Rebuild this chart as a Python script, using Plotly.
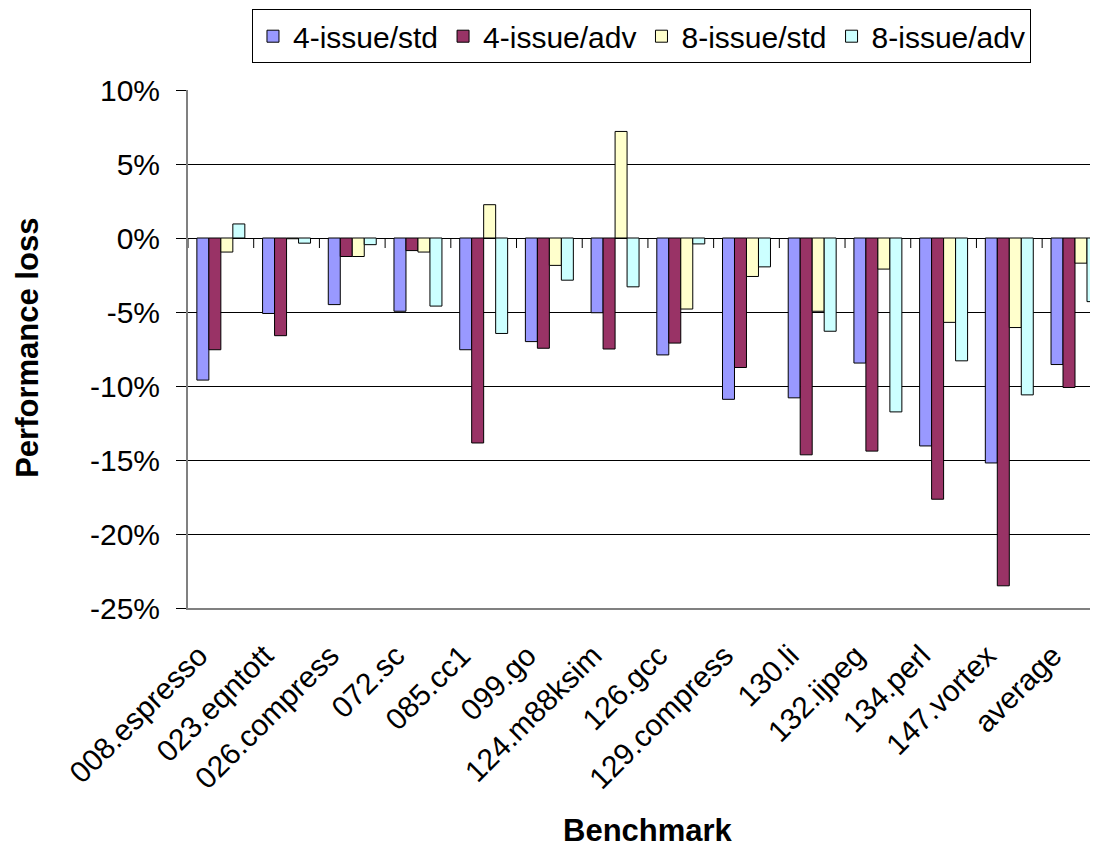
import plotly.graph_objects as go

categories = ["008.espresso", "023.eqntott", "026.compress", "072.sc", "085.cc1",
              "099.go", "124.m88ksim", "126.gcc", "129.compress", "130.li",
              "132.ijpeg", "134.perl", "147.vortex", "average"]

issue4_std = [-9.6, -5.1, -4.5, -4.95, -7.55, -7.0, -5.05, -7.9, -10.9, -10.8, -8.45, -14.05, -15.2, -8.55]
issue4_adv = [-7.55, -6.6, -1.25, -0.85, -13.85, -7.45, -7.5, -7.1, -8.75, -14.65, -14.4, -17.65, -23.5, -10.1]
issue8_std = [-0.95, -0.05, -1.25, -0.95, 2.25, -1.85, 7.2, -4.8, -2.6, -4.95, -2.1, -5.7, -6.05, -1.7]
issue8_adv = [0.95, -0.35, -0.45, -4.6, -6.45, -2.85, -3.3, -0.4, -1.95, -6.3, -11.75, -8.3, -10.6, -4.3]

series_names = ["4-issue/std", "4-issue/adv", "8-issue/std", "8-issue/adv"]
series_values = [issue4_std, issue4_adv, issue8_std, issue8_adv]
series_colors = ["#9999FF", "#993366", "#FFFFCC", "#CCFFFF"]

y_tick_values = [10, 5, 0, -5, -10, -15, -20, -25]
y_tick_labels = ["10%", "5%", "0%", "-5%", "-10%", "-15%", "-20%", "-25%"]

FONT = "Arial, Liberation Sans, sans-serif"
FS = 30

fig = go.Figure()
for name, vals, col in zip(series_names, series_values, series_colors):
    fig.add_trace(go.Bar(
        x=list(range(len(categories))), y=vals, name=name,
        marker=dict(color=col, line=dict(color="black", width=1)),
    ))

# category separator tick marks on the zero line
shapes = []
for k in range(len(categories)):
    shapes.append(dict(type="line", xref="x", yref="y", ysizemode="pixel", yanchor=0,
                       x0=k - 0.5, x1=k - 0.5, y0=0, y1=-10,
                       line=dict(color="black", width=1)))

fig.update_layout(
    width=1090, height=843,
    margin=dict(l=180, r=0, t=82, b=243, pad=0, autoexpand=False),
    paper_bgcolor="white", plot_bgcolor="white",
    barmode="group", bargap=0.27, bargroupgap=0,
    font=dict(family=FONT, size=FS, color="black"),
    shapes=shapes,
    showlegend=True,
    legend=dict(orientation="h", x=0.0703, xanchor="left", y=1.156, yanchor="top",
                bordercolor="black", borderwidth=1, bgcolor="white",
                font=dict(family=FONT, size=FS, color="black"),
                itemwidth=30, tracegroupgap=0),
    xaxis=dict(
        tickmode="array", tickvals=list(range(len(categories))), ticktext=categories,
        range=[-0.5, 13.35], tickangle=-45, showgrid=False, zeroline=False,
        showline=True, linecolor="#808080", linewidth=2, ticks="", automargin=False,
        ticklabelstandoff=16, ticklabelshift=-22,
        tickfont=dict(family=FONT, size=FS, color="black"),
    ),
    yaxis=dict(
        range=[-25, 10], tickmode="array", tickvals=y_tick_values, ticktext=y_tick_labels,
        showgrid=True, gridcolor="black", gridwidth=1,
        zeroline=True, zerolinecolor="black", zerolinewidth=1,
        showline=True, linecolor="#808080", linewidth=2, automargin=False,
        ticks="outside", ticklen=10, tickcolor="black", ticklabelstandoff=10,
        tickfont=dict(family=FONT, size=FS, color="black"),
    ),
    annotations=[
        dict(text="<b>Performance loss</b>", xref="paper", yref="paper",
             x=-0.176, y=0.502, xanchor="center", yanchor="middle", textangle=-90,
             showarrow=False, font=dict(family=FONT, size=31, color="black")),
        dict(text="<b>Benchmark</b>", xref="paper", yref="paper",
             x=0.5055, y=-0.4286, xanchor="center", yanchor="middle",
             showarrow=False, font=dict(family=FONT, size=31, color="black")),
    ],
)

fig.write_html("out.html")
